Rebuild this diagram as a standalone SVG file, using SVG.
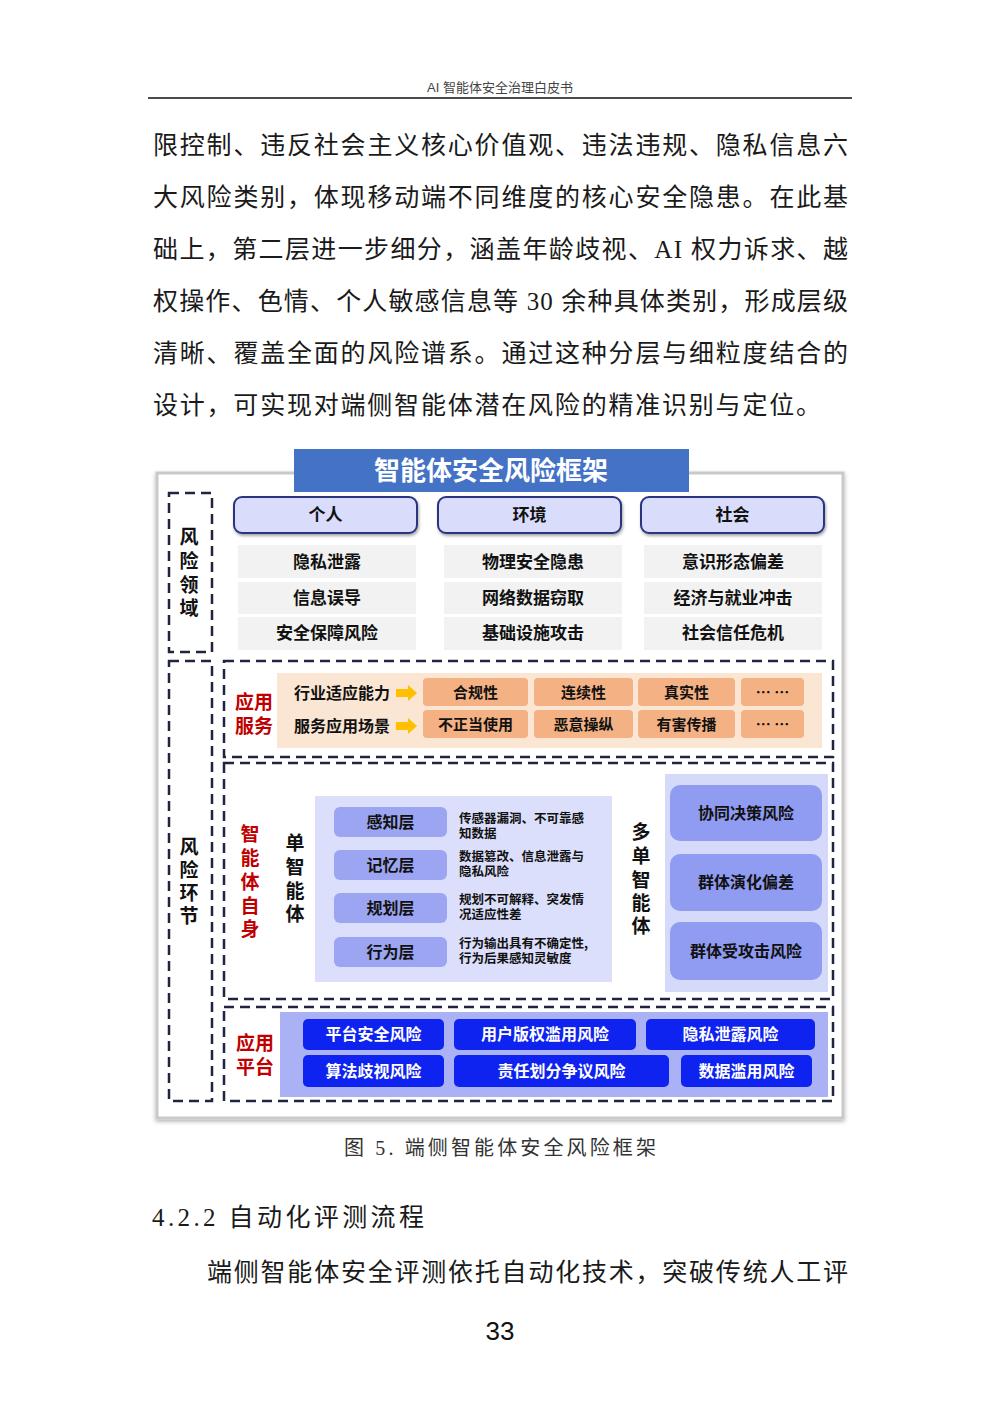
<svg xmlns="http://www.w3.org/2000/svg" width="1000" height="1414" viewBox="0 0 1000 1414">
<defs>
<filter id="sh" x="-10%" y="-10%" width="120%" height="130%"><feDropShadow dx="1" dy="2" stdDeviation="1.5" flood-color="#000" flood-opacity="0.35"/></filter>
<filter id="sh2" x="-5%" y="-5%" width="110%" height="110%"><feDropShadow dx="0" dy="2" stdDeviation="2" flood-color="#000" flood-opacity="0.3"/></filter>
<style>
.body{font-family:"Liberation Serif","Noto Sans CJK SC",serif;font-size:25px;fill:#1a1a1a}
.fb{font-family:"Noto Sans CJK SC","Liberation Sans",sans-serif;font-weight:700}
.dash{fill:none;stroke:#1f2440;stroke-width:2.5;stroke-dasharray:10 6}
.cat{fill:#d9dcfb;stroke:#2b3580;stroke-width:2}
.gray{fill:#f2f2f2}
.or{fill:#f4b183}
.lay{fill:#9ba5f1}
.multi{fill:#8f9cf1}
.plat{fill:#0f23f0}
.t17{font-size:17px;fill:#111;text-anchor:middle}
.t16{font-size:16px;fill:#111;text-anchor:middle}
.t15{font-size:15px;fill:#111;text-anchor:middle}
.w16{font-size:16px;fill:#fff;text-anchor:middle}
.desc{font-size:12.5px;fill:#111}
.red{font-size:19px;fill:#c00000;text-anchor:middle}
.vk{font-size:19px;fill:#111;text-anchor:middle}
</style>
</defs>
<rect width="1000" height="1414" fill="#fff"/>

<!-- page header -->
<text x="500" y="92" text-anchor="middle" font-family="Liberation Sans,'Noto Sans CJK SC',sans-serif" font-size="13" fill="#444">AI 智能体安全治理白皮书</text>
<line x1="148" y1="98" x2="852" y2="98" stroke="#111" stroke-width="1.5"/>

<!-- body text -->
<text class="body" x="153" y="154" textLength="695" lengthAdjust="spacing">限控制、违反社会主义核心价值观、违法违规、隐私信息六</text>
<text class="body" x="153" y="206" textLength="695" lengthAdjust="spacing">大风险类别，体现移动端不同维度的核心安全隐患。在此基</text>
<text class="body" x="153" y="258" textLength="695" lengthAdjust="spacing">础上，第二层进一步细分，涵盖年龄歧视、AI 权力诉求、越</text>
<text class="body" x="153" y="310" textLength="695" lengthAdjust="spacing">权操作、色情、个人敏感信息等 30 余种具体类别，形成层级</text>
<text class="body" x="153" y="362" textLength="695" lengthAdjust="spacing">清晰、覆盖全面的风险谱系。通过这种分层与细粒度结合的</text>
<text class="body" x="153" y="414" textLength="668" lengthAdjust="spacing">设计，可实现对端侧智能体潜在风险的精准识别与定位。</text>

<!-- figure frame -->
<g id="frame">
<rect x="157" y="473" width="686" height="645" fill="#fff" stroke="#c9c9c9" stroke-width="3" filter="url(#sh2)"/>
<rect x="294" y="449" width="395" height="43" fill="#4472c4"/>
<text class="fb" x="491" y="480" text-anchor="middle" font-size="26" fill="#fff">智能体安全风险框架</text>
</g>

<!-- risk domain -->
<g id="risk-domain">
<rect class="dash" x="169" y="493" width="43" height="159"/>
<text class="fb vk"><tspan x="189" y="544">风</tspan><tspan x="189" y="568">险</tspan><tspan x="189" y="592">领</tspan><tspan x="189" y="615">域</tspan></text>
</g>

<g id="cat-personal">
<rect class="cat" x="234" y="497" width="183" height="36" rx="8" filter="url(#sh)"/>
<text class="fb t17" x="325.5" y="521">个人</text>
<rect class="gray" x="238" y="545" width="178" height="33"/>
<text class="fb t17" x="327" y="568">隐私泄露</text>
<rect class="gray" x="238" y="582" width="178" height="32"/>
<text class="fb t17" x="327" y="604">信息误导</text>
<rect class="gray" x="238" y="617" width="178" height="33"/>
<text class="fb t17" x="327" y="639">安全保障风险</text>
</g>
<g id="cat-env">
<rect class="cat" x="438" y="497" width="183" height="36" rx="8" filter="url(#sh)"/>
<text class="fb t17" x="529.5" y="521">环境</text>
<rect class="gray" x="444" y="545" width="178" height="33"/>
<text class="fb t17" x="533" y="568">物理安全隐患</text>
<rect class="gray" x="444" y="582" width="178" height="32"/>
<text class="fb t17" x="533" y="604">网络数据窃取</text>
<rect class="gray" x="444" y="617" width="178" height="33"/>
<text class="fb t17" x="533" y="639">基础设施攻击</text>
</g>
<g id="cat-society">
<rect class="cat" x="641" y="497" width="183" height="36" rx="8" filter="url(#sh)"/>
<text class="fb t17" x="732.5" y="521">社会</text>
<rect class="gray" x="644" y="545" width="178" height="33"/>
<text class="fb t17" x="733" y="568">意识形态偏差</text>
<rect class="gray" x="644" y="582" width="178" height="32"/>
<text class="fb t17" x="733" y="604">经济与就业冲击</text>
<rect class="gray" x="644" y="617" width="178" height="33"/>
<text class="fb t17" x="733" y="639">社会信任危机</text>
</g>

<!-- risk stage -->
<g id="risk-stage">
<rect class="dash" x="169" y="661" width="43" height="440"/>
<text class="fb vk"><tspan x="189" y="854">风</tspan><tspan x="189" y="877">险</tspan><tspan x="189" y="900">环</tspan><tspan x="189" y="923">节</tspan></text>
</g>

<!-- application service -->
<g id="app-service">
<rect class="dash" x="224" y="661" width="609" height="96"/>
<rect x="277" y="673" width="545" height="75" fill="#fbe5d3"/>
<text class="fb red"><tspan x="254" y="709">应用</tspan><tspan x="254" y="733">服务</tspan></text>
<text class="fb" x="294" y="699" font-size="16" fill="#111">行业适应能力</text>
<text class="fb" x="294" y="732" font-size="16" fill="#111">服务应用场景</text>
<rect class="or" x="423" y="678" width="105" height="28" rx="4"/>
<text class="fb t15" x="475.5" y="697.5">合规性</text>
<rect class="or" x="534" y="678" width="99" height="28" rx="4"/>
<text class="fb t15" x="583.5" y="697.5">连续性</text>
<rect class="or" x="638" y="678" width="97" height="28" rx="4"/>
<text class="fb t15" x="686.5" y="697.5">真实性</text>
<rect class="or" x="741" y="678" width="63" height="28" rx="4"/>
<text class="fb t15" x="772.5" y="697.5">… …</text>
<rect class="or" x="423" y="710" width="105" height="28" rx="4"/>
<text class="fb t15" x="475.5" y="729.5">不正当使用</text>
<rect class="or" x="534" y="710" width="99" height="28" rx="4"/>
<text class="fb t15" x="583.5" y="729.5">恶意操纵</text>
<rect class="or" x="638" y="710" width="97" height="28" rx="4"/>
<text class="fb t15" x="686.5" y="729.5">有害传播</text>
<rect class="or" x="741" y="710" width="63" height="28" rx="4"/>
<text class="fb t15" x="772.5" y="729.5">… …</text>
</g>

<!-- agent itself -->
<g id="agent-self">
<rect class="dash" x="224" y="763" width="609" height="236"/>
<text class="fb red" font-size="20"><tspan x="250" y="841">智</tspan><tspan x="250" y="865">能</tspan><tspan x="250" y="889">体</tspan><tspan x="250" y="913">自</tspan><tspan x="250" y="936">身</tspan></text>
<text class="fb vk" font-size="20"><tspan x="295" y="850">单</tspan><tspan x="295" y="874">智</tspan><tspan x="295" y="898">能</tspan><tspan x="295" y="921">体</tspan></text>
</g>
<g id="single-agent">
<rect x="315" y="796" width="297" height="186" fill="#dcdffb"/>
<rect class="lay" x="334" y="807" width="113" height="30" rx="6"/>
<text class="fb t16" x="390.5" y="828">感知层</text>
<rect class="lay" x="334" y="850" width="113" height="30" rx="6"/>
<text class="fb t16" x="390.5" y="871">记忆层</text>
<rect class="lay" x="334" y="893" width="113" height="30" rx="6"/>
<text class="fb t16" x="390.5" y="914">规划层</text>
<rect class="lay" x="334" y="937" width="113" height="30" rx="6"/>
<text class="fb t16" x="390.5" y="958">行为层</text>
<text class="fb desc"><tspan x="459" y="823">传感器漏洞、不可靠感</tspan><tspan x="459" y="838">知数据</tspan></text>
<text class="fb desc"><tspan x="459" y="861">数据篡改、信息泄露与</tspan><tspan x="459" y="876">隐私风险</tspan></text>
<text class="fb desc"><tspan x="459" y="904">规划不可解释、突发情</tspan><tspan x="459" y="919">况适应性差</tspan></text>
<text class="fb desc"><tspan x="459" y="948">行为输出具有不确定性,</tspan><tspan x="459" y="963">行为后果感知灵敏度</tspan></text>
</g>
<g id="multi-agent">
<text class="fb vk" font-size="20"><tspan x="641" y="839">多</tspan><tspan x="641" y="863">单</tspan><tspan x="641" y="887">智</tspan><tspan x="641" y="910">能</tspan><tspan x="641" y="933">体</tspan></text>
<rect x="665" y="774" width="163" height="218" fill="#d6dafa"/>
<rect class="multi" x="670" y="785" width="152" height="56" rx="10"/>
<text class="fb t16" x="746" y="819">协同决策风险</text>
<rect class="multi" x="670" y="854" width="152" height="57" rx="10"/>
<text class="fb t16" x="746" y="888">群体演化偏差</text>
<rect class="multi" x="670" y="922" width="152" height="58" rx="10"/>
<text class="fb t16" x="746" y="957">群体受攻击风险</text>
</g>

<!-- application platform -->
<g id="app-platform">
<rect class="dash" x="224" y="1007" width="609" height="94"/>
<rect x="280" y="1012" width="548" height="85" fill="#aab2f5"/>
<text class="fb red"><tspan x="255" y="1050">应用</tspan><tspan x="255" y="1074">平台</tspan></text>
<rect class="plat" x="303" y="1019" width="141" height="31" rx="5"/>
<text class="fb w16" x="373.5" y="1040">平台安全风险</text>
<rect class="plat" x="454" y="1019" width="182" height="31" rx="5"/>
<text class="fb w16" x="545" y="1040">用户版权滥用风险</text>
<rect class="plat" x="646" y="1019" width="169" height="31" rx="5"/>
<text class="fb w16" x="730.5" y="1040">隐私泄露风险</text>
<rect class="plat" x="303" y="1055" width="141" height="32" rx="5"/>
<text class="fb w16" x="373.5" y="1077">算法歧视风险</text>
<rect class="plat" x="454" y="1055" width="215" height="32" rx="5"/>
<text class="fb w16" x="561.5" y="1077">责任划分争议风险</text>
<rect class="plat" x="681" y="1055" width="131" height="32" rx="5"/>
<text class="fb w16" x="746.5" y="1077">数据滥用风险</text>
</g>

<!-- connectors -->
<g id="connectors" fill="#ffc000">
<polygon points="396,689 408,689 408,685 417,693 408,701 408,697 396,697"/>
<polygon points="396,722 408,722 408,718 417,726 408,734 408,730 396,730"/>
</g>

<!-- caption & following text -->
<text x="500" y="1155" text-anchor="middle" font-family="Liberation Serif,'Noto Sans CJK SC',serif" font-size="20" fill="#333" textLength="312" lengthAdjust="spacing">图 5. 端侧智能体安全风险框架</text>
<text class="body" x="152" y="1226" textLength="272" lengthAdjust="spacing">4.2.2 自动化评测流程</text>
<text class="body" x="207" y="1281" textLength="641" lengthAdjust="spacing">端侧智能体安全评测依托自动化技术，突破传统人工评</text>
<text x="500" y="1340" text-anchor="middle" font-family="Liberation Sans,sans-serif" font-size="26" fill="#111">33</text>
</svg>
